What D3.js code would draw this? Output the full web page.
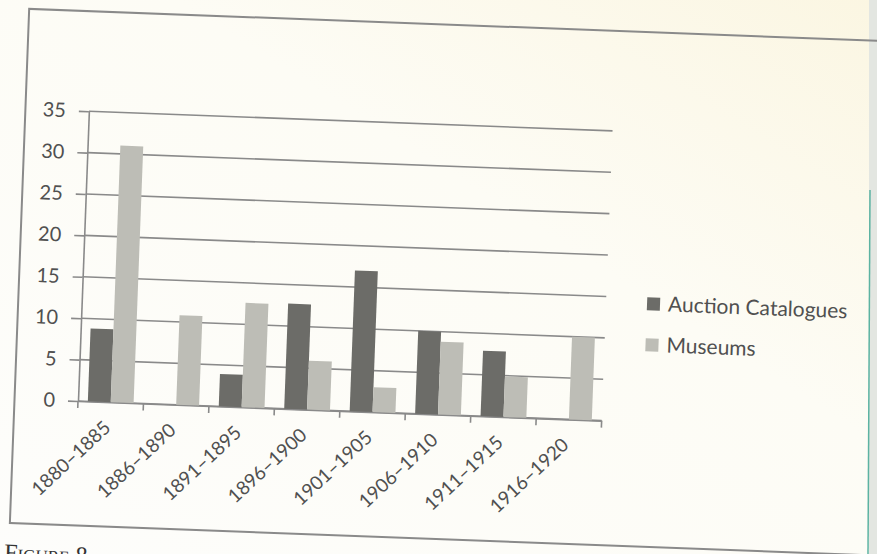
<!DOCTYPE html>
<html>
<head>
<meta charset="utf-8">
<script src="https://cdn.jsdelivr.net/npm/d3@7"></script>
<style>
  body { margin: 0; background: #fdfcf6; }
  svg { display: block; }
  text { font-family: Lato, "Open Sans", sans-serif; fill: #505050; }
</style>
</head>
<body>
<svg id="chart" width="877" height="554"></svg>
<script>
// values
var categories = ["1880–1885", "1886–1890", "1891–1895", "1896–1900",
                  "1901–1905", "1906–1910", "1911–1915", "1916–1920"];
var auction = [8.8, 0, 3.9, 12.7, 17.0, 10.0, 7.9, 0];
var museums = [31.0, 10.8, 12.6, 5.9, 3.0, 8.8, 4.9, 10.0];
var seriesNames = ["Auction Catalogues", "Museums"];
var yTicks = [0, 5, 10, 15, 20, 25, 30, 35];

var colors = ["#6c6c68", "#bdbdb6"];
var lineColor = "#8a8a8a";

var svg = d3.select("#chart"),
  margin = { top: 111, left: 78 },
  width = 524,
  height = 290;

// paper tint and page edge from the photo
var defs = svg.append("defs");
var grad = defs.append("linearGradient").attr("id", "paper")
  .attr("x1", "0").attr("y1", "1").attr("x2", "1").attr("y2", "0");
grad.append("stop").attr("offset", "0").attr("stop-color", "#fdfdfb");
grad.append("stop").attr("offset", "0.6").attr("stop-color", "#fdfcf5");
grad.append("stop").attr("offset", "1").attr("stop-color", "#fbf6e2");
svg.append("rect").attr("width", 877).attr("height", 554).attr("fill", "url(#paper)");
svg.append("rect").attr("x", 869).attr("y", 0).attr("width", 8).attr("height", 554)
  .attr("fill", "#e3e6e1");
svg.append("line").attr("x1", 870).attr("x2", 868).attr("y1", 190).attr("y2", 554)
  .attr("stroke", "#5cb3a2").attr("stroke-width", 1.5);

// the printed page is slightly tilted in the scan
var page = svg.append("g").attr("transform", "rotate(2.15," + margin.left + "," + (margin.top + height) + ")");

page.append("rect")
  .attr("x", 14.5).attr("y", 11)
  .attr("width", 920).attr("height", 514.5)
  .attr("fill", "none").attr("stroke", lineColor).attr("stroke-width", 2);

page.append("text")
  .attr("x", 10).attr("y", 563)
  .style("font-family", "'Liberation Serif', serif")
  .style("font-variant", "small-caps")
  .style("font-size", "24px")
  .style("fill", "#333")
  .text("Figure 8");

var g = page.append("g")
  .attr("transform", "translate(" + margin.left + "," + margin.top + ")");

var x0 = d3.scaleBand().domain(categories).range([0, width]);
var x1 = d3.scaleBand().domain(seriesNames).range([0, x0.bandwidth()]).paddingOuter(0.43);
var y = d3.scaleLinear().domain([0, 35]).range([height, 0]);

// gridlines
g.append("g")
  .selectAll("line")
  .data(yTicks)
  .enter().append("line")
  .attr("x1", 0).attr("x2", width)
  .attr("y1", function (d) { return y(d); })
  .attr("y2", function (d) { return y(d); })
  .attr("stroke", lineColor).attr("stroke-width", 1.6);

// y axis
var yAxis = g.append("g")
  .call(d3.axisLeft(y).tickValues(yTicks).tickSize(10).tickSizeOuter(0).tickPadding(13));
yAxis.selectAll("line").attr("stroke", lineColor).attr("stroke-width", 1.6);
yAxis.select(".domain").attr("stroke", lineColor).attr("stroke-width", 1.6);
yAxis.selectAll("text").style("font-size", "20px").style("font-family", null).attr("fill", null);

// x axis
var xAxis = g.append("g")
  .attr("transform", "translate(0," + height + ")")
  .call(d3.axisBottom(x0).tickSize(0).tickSizeOuter(0));
xAxis.select(".domain").attr("stroke", lineColor).attr("stroke-width", 1.6);
xAxis.selectAll("text")
  .attr("x", 0).attr("y", 0).attr("dy", 0)
  .attr("transform", "translate(2,27) rotate(-45)")
  .style("text-anchor", "end")
  .style("font-size", "19px").style("font-family", null).attr("fill", null);

g.append("g")
  .attr("transform", "translate(0," + height + ")")
  .selectAll("line")
  .data(d3.range(categories.length + 1))
  .enter().append("line")
  .attr("x1", function (i) { return i * x0.step(); })
  .attr("x2", function (i) { return i * x0.step(); })
  .attr("y1", 0).attr("y2", 7)
  .attr("stroke", lineColor).attr("stroke-width", 1.6);

// bars
var rows = categories.map(function (c, i) {
  return { cat: c, values: [auction[i], museums[i]] };
});

var groups = g.selectAll(".cat")
  .data(rows)
  .enter().append("g")
  .attr("class", "cat")
  .attr("transform", function (d) { return "translate(" + x0(d.cat) + ",0)"; });

groups.selectAll("rect")
  .data(function (d) {
    return d.values.map(function (v, j) { return { name: seriesNames[j], value: v, j: j }; });
  })
  .enter().append("rect")
  .attr("x", function (d) { return x1(d.name); })
  .attr("width", x1.bandwidth())
  .attr("y", function (d) { return y(d.value); })
  .attr("height", function (d) { return height - y(d.value); })
  .attr("fill", function (d) { return colors[d.j]; });

// legend
var legend = page.append("g")
  .selectAll("g")
  .data(seriesNames)
  .enter().append("g")
  .attr("transform", function (d, i) { return "translate(643," + (282.5 + i * 41) + ")"; });

legend.append("rect")
  .attr("x", 0).attr("y", -6.5)
  .attr("width", 13).attr("height", 13)
  .attr("fill", function (d, i) { return colors[i]; });

legend.append("text")
  .attr("x", 21).attr("y", 7)
  .style("font-size", "21px")
  .text(function (d) { return d; });
</script>
</body>
</html>
